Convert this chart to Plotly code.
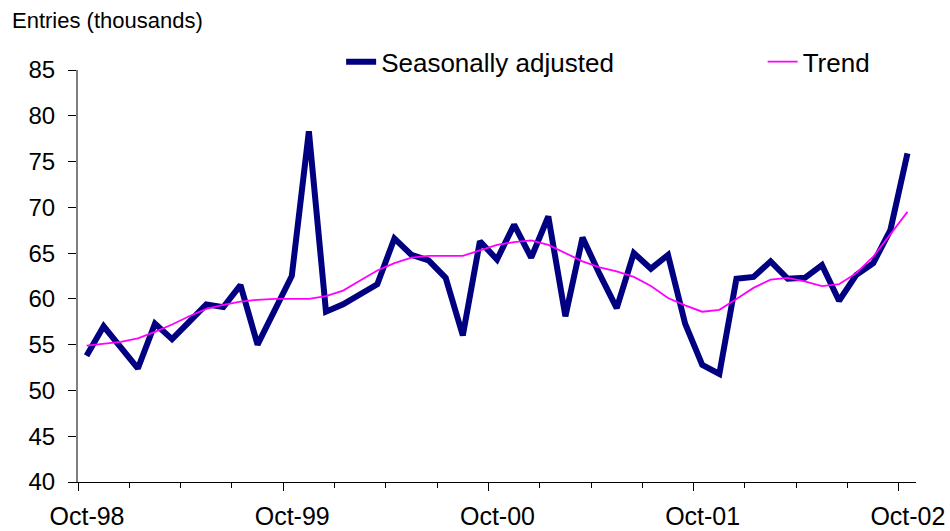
import plotly.graph_objects as go

months = ["Oct-98", "Nov-98", "Dec-98", "Jan-99", "Feb-99", "Mar-99", "Apr-99", "May-99", "Jun-99",
          "Jul-99", "Aug-99", "Sep-99", "Oct-99", "Nov-99", "Dec-99", "Jan-00", "Feb-00", "Mar-00",
          "Apr-00", "May-00", "Jun-00", "Jul-00", "Aug-00", "Sep-00", "Oct-00", "Nov-00", "Dec-00",
          "Jan-01", "Feb-01", "Mar-01", "Apr-01", "May-01", "Jun-01", "Jul-01", "Aug-01", "Sep-01",
          "Oct-01", "Nov-01", "Dec-01", "Jan-02", "Feb-02", "Mar-02", "Apr-02", "May-02", "Jun-02",
          "Jul-02", "Aug-02", "Sep-02", "Oct-02"]

seasonally_adjusted = [53.8, 57.0, 54.7, 52.4, 57.3, 55.6, 57.5, 59.4, 59.1, 61.5, 55.0, 58.8,
                       62.5, 78.3, 58.6, 59.4, 60.5, 61.6, 66.6, 64.8, 64.2, 62.3, 56.0, 66.3,
                       64.3, 68.1, 64.5, 69.0, 58.1, 66.7, 62.7, 59.0, 65.0, 63.3, 64.8, 57.3,
                       52.8, 51.8, 62.2, 62.4, 64.1, 62.2, 62.3, 63.7, 59.8, 62.6, 63.9, 67.5,
                       75.9]

trend = [54.9, 55.06, 55.3, 55.7, 56.4, 57.2, 58.1, 58.9, 59.35, 59.7, 59.9, 60.0,
         60.0, 60.0, 60.3, 60.9, 62.0, 63.1, 63.9, 64.5, 64.7, 64.7, 64.7, 65.3,
         65.9, 66.2, 66.4, 65.9, 65.0, 64.1, 63.45, 63.0, 62.4, 61.4, 60.1, 59.3,
         58.6, 58.8, 60.0, 61.2, 62.1, 62.3, 61.9, 61.4, 61.6, 62.8, 64.6, 67.1,
         69.5]

year_labels = ["Oct-98", "Oct-99", "Oct-00", "Oct-01", "Oct-02"]
y_ticks = [40, 45, 50, 55, 60, 65, 70, 75, 80, 85]

x = list(range(len(months)))
label_pos = [months.index(m) for m in year_labels]
year_bounds = [p - 0.5 for p in label_pos]

FONT = "Liberation Sans, Arial, sans-serif"

fig = go.Figure()
fig.add_trace(go.Scatter(x=x, y=seasonally_adjusted, mode="lines", name="Seasonally adjusted",
                         line=dict(color="#000080", width=6), customdata=months,
                         legend="legend",
                         hovertemplate="%{customdata}: %{y}<extra></extra>"))
fig.add_trace(go.Scatter(x=x, y=trend, mode="lines", name="Trend",
                         line=dict(color="#FF00FF", width=1.8), customdata=months,
                         legend="legend2",
                         hovertemplate="%{customdata}: %{y}<extra></extra>"))

legend_common = dict(orientation="h", xanchor="left", y=1.02, yanchor="middle",
                     font=dict(size=26, family=FONT, color="black"),
                     bgcolor="rgba(0,0,0,0)", itemwidth=30)

fig.update_layout(
    width=950, height=531,
    margin=dict(l=78, r=34, t=70, b=49, autoexpand=False),
    paper_bgcolor="white", plot_bgcolor="white",
    font=dict(family=FONT, size=24, color="black"),
    showlegend=True,
    legend=dict(x=0.314, **legend_common),
    legend2=dict(x=0.817, **legend_common),
    annotations=[dict(text="Entries (thousands)", xref="paper", yref="paper",
                      x=-0.081, y=1.121, xanchor="left", yanchor="middle",
                      showarrow=False, font=dict(size=22, family=FONT, color="black"))],
)

fig.update_xaxes(
    range=[-0.5, len(months) - 0.5],
    tickmode="array", tickvals=year_bounds, ticktext=year_labels,
    tickfont=dict(size=25),
    ticks="outside", ticklen=8, tickcolor="black", tickwidth=1,
    ticklabelshift=9, ticklabelstandoff=4,
    minor=dict(tickmode="linear", tick0=-0.5, dtick=3, ticks="outside", ticklen=5,
               tickcolor="black", tickwidth=1, showgrid=False),
    showline=True, linecolor="black", linewidth=1.3,
    showgrid=False, zeroline=False, automargin=False,
)
fig.update_yaxes(
    range=[40, 85], tickmode="array", tickvals=y_ticks,
    ticks="outside", ticklen=8, tickcolor="black", tickwidth=1,
    ticklabelstandoff=8,
    showline=True, linecolor="#808080", linewidth=2,
    showgrid=False, zeroline=False, automargin=False,
)

fig.write_html("out.html", config={"displayModeBar": False},
               post_script="document.body.style.margin='0';document.body.style.overflow='hidden';")
